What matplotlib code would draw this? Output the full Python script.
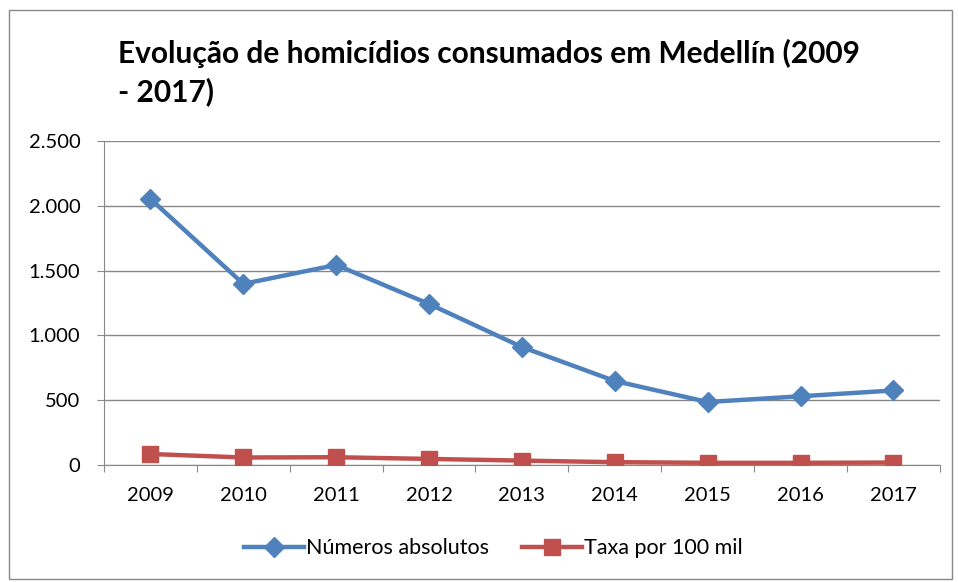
import matplotlib.pyplot as plt
import matplotlib.ticker as mticker
import numpy as np

# Dados
anos = ['2009', '2010', '2011', '2012', '2013', '2014', '2015', '2016', '2017']
absolutos = [2052, 1397, 1543, 1242, 910, 648, 486, 530, 575]
taxa = [85, 58, 60, 47, 34, 22, 17, 17, 19]

plt.rcParams['font.family'] = ['Lato', 'DejaVu Sans']

fig = plt.figure(figsize=(9.58, 5.82), dpi=100)
ax = fig.add_axes([0.1086, 0.201, 0.8724, 0.557])

x = np.arange(len(anos)) + 0.5
ax.plot(x, absolutos, color='#4F81BD', marker='D', markersize=10,
        linewidth=3.2, label='Números absolutos', zorder=3)
ax.plot(x, taxa, color='#C0504D', marker='s', markersize=11,
        linewidth=3.2, label='Taxa por 100 mil', zorder=3)

ax.set_xlim(0, len(anos))
ax.set_ylim(0, 2500)
ax.set_yticks(range(0, 2501, 500))
ax.yaxis.set_major_formatter(mticker.FuncFormatter(lambda v, p: f'{int(v):,}'.replace(',', '.')))
ax.set_xticks(np.arange(len(anos) + 1))
ax.set_xticklabels([])
ax.set_xticks(x, minor=True)
ax.set_xticklabels(anos, minor=True)
ax.tick_params(axis='x', which='minor', length=0, pad=16, labelsize=14.5)
ax.tick_params(axis='x', which='major', length=5, color='#888888')
ax.tick_params(axis='y', length=5, color='#888888', labelsize=14.5, pad=12)

ax.grid(axis='y', color='#888888', linewidth=1)
ax.set_axisbelow(True)
for s in ['top', 'right']:
    ax.spines[s].set_visible(False)
ax.spines['left'].set_color('#888888')
ax.spines['bottom'].set_color('#888888')

fig.text(0.123, 0.876, 'Evolução de homicídios consumados em Medellín (2009\n- 2017)',
         fontsize=21.5, fontweight='bold', ha='left', va='center', linespacing=1.37)

fig.legend(loc='center', bbox_to_anchor=(0.515, 0.058), ncol=2, frameon=False,
           fontsize=15.5, handlelength=2.8, handletextpad=0.1, columnspacing=1.5)

# borda externa
fig.patches.append(plt.Rectangle((0.009, 0.005), 0.985, 0.978, transform=fig.transFigure,
                                 fill=False, edgecolor='#888888', linewidth=1))

fig.savefig('out.png', dpi=100)
